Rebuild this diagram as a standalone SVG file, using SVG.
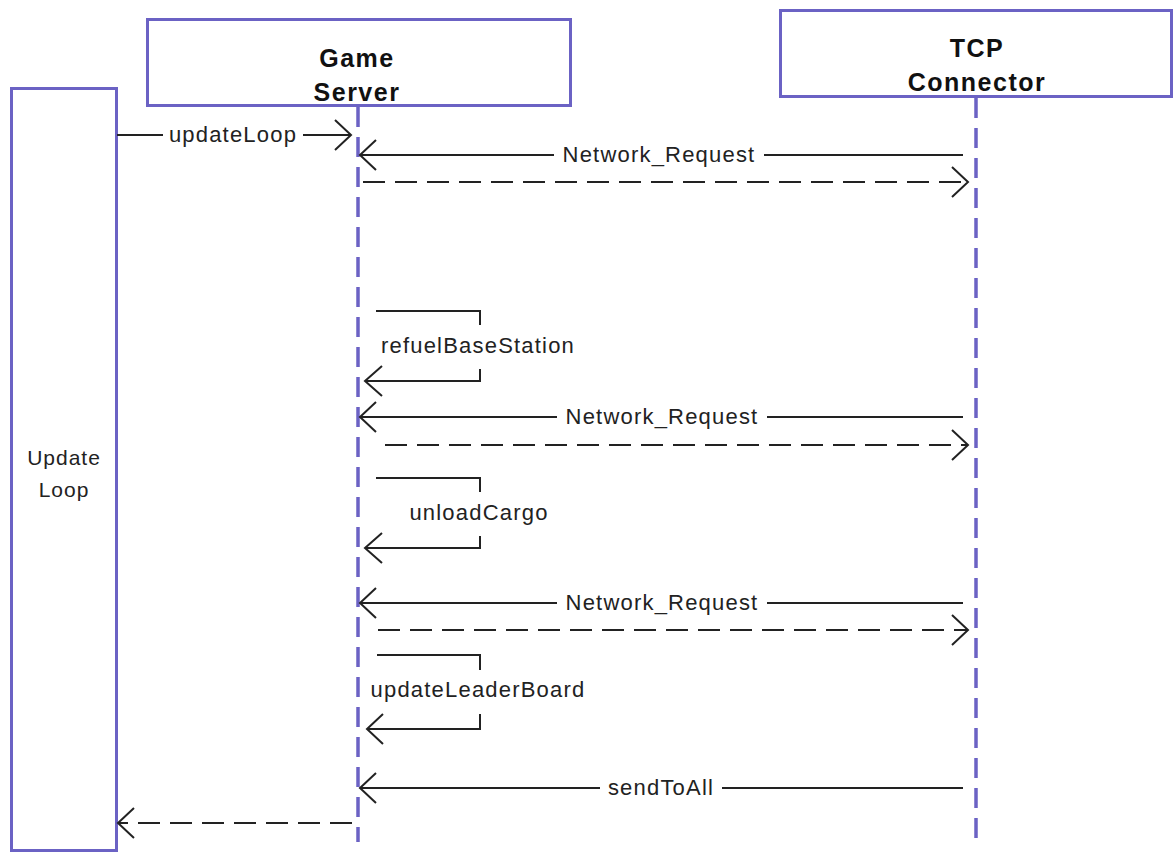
<svg xmlns="http://www.w3.org/2000/svg" width="1173" height="852" viewBox="0 0 1173 852">
  <style>
    .box { fill: #ffffff; stroke: #6b62c4; stroke-width: 3; }
    .life { stroke: #6b62c4; stroke-width: 3.5; stroke-dasharray: 20 10; fill: none; }
    .msg { stroke: #222222; stroke-width: 2; fill: none; }
    .ret { stroke: #222222; stroke-width: 2; fill: none; stroke-dasharray: 22 10; }
    .head { stroke: #222222; stroke-width: 2; fill: none; }
    .title { font-family: "Liberation Sans", Arial, sans-serif; font-size: 25px; font-weight: bold; letter-spacing: 1.5px; fill: #111111; text-anchor: middle; }
    .lbl { font-family: "Liberation Sans", Arial, sans-serif; font-size: 22px; letter-spacing: 1.2px; fill: #222222; text-anchor: middle; }
  </style>

  <!-- participants -->
  <g id="update-loop">
    <rect class="box" x="11.5" y="88.5" width="105" height="762"/>
    <text class="lbl" style="font-size:21px;letter-spacing:1px" x="64" y="465">Update</text>
    <text class="lbl" style="font-size:21px;letter-spacing:1px" x="64" y="497">Loop</text>
  </g>

  <g id="game-server">
    <line class="life" x1="358" y1="107" x2="358" y2="842"/>
    <rect class="box" x="147.5" y="19.5" width="423" height="86"/>
    <text class="title" x="357" y="67">Game</text>
    <text class="title" x="357" y="101">Server</text>
  </g>

  <g id="tcp-connector">
    <line class="life" x1="976" y1="98" x2="976" y2="840"/>
    <rect class="box" x="780.5" y="10.5" width="391" height="86"/>
    <text class="title" x="977" y="57">TCP</text>
    <text class="title" x="977" y="91">Connector</text>
  </g>

  <!-- messages -->
  <g id="connectors">
    <!-- updateLoop -->
    <path class="msg" d="M117 135 H163 M303 135 H351"/>
    <path class="head" d="M335 120 L351 135 L335 150"/>
    <text class="lbl" x="233" y="142">updateLoop</text>

    <!-- Network_Request 1 -->
    <path class="msg" d="M963 155 H764 M554 155 H360"/>
    <path class="head" d="M376 140 L360 155 L376 170"/>
    <text class="lbl" x="659" y="162">Network_Request</text>
    <path class="ret" d="M363 182 H967"/>
    <path class="head" d="M952 167 L968 182 L952 197"/>

    <!-- refuelBaseStation -->
    <path class="msg" d="M376 311 H480 V325 M480 369 V381 H365"/>
    <path class="head" d="M382 366 L365 381 L382 396"/>
    <text class="lbl" x="478" y="353">refuelBaseStation</text>

    <!-- Network_Request 2 -->
    <path class="msg" d="M963 417 H767 M557 417 H360"/>
    <path class="head" d="M376 402 L360 417 L376 432"/>
    <text class="lbl" x="662" y="424">Network_Request</text>
    <path class="ret" d="M385 445 H967"/>
    <path class="head" d="M952 430 L968 445 L952 460"/>

    <!-- unloadCargo -->
    <path class="msg" d="M376 478 H480 V492 M480 536 V548 H365"/>
    <path class="head" d="M382 533 L365 548 L382 563"/>
    <text class="lbl" x="479" y="520">unloadCargo</text>

    <!-- Network_Request 3 -->
    <path class="msg" d="M963 603 H767 M557 603 H360"/>
    <path class="head" d="M376 588 L360 603 L376 618"/>
    <text class="lbl" x="662" y="610">Network_Request</text>
    <path class="ret" d="M378 630 H967"/>
    <path class="head" d="M952 615 L968 630 L952 645"/>

    <!-- updateLeaderBoard -->
    <path class="msg" d="M377 655 H480 V670 M480 714 V729 H367"/>
    <path class="head" d="M383 714 L367 729 L383 744"/>
    <text class="lbl" x="478" y="697">updateLeaderBoard</text>

    <!-- sendToAll -->
    <path class="msg" d="M963 788 H722 M600 788 H360"/>
    <path class="head" d="M376 773 L360 788 L376 803"/>
    <text class="lbl" x="661" y="795">sendToAll</text>

    <!-- return to Update Loop -->
    <path class="ret" d="M352 823 H119"/>
    <path class="head" d="M134 808 L118 823 L134 838"/>
  </g>
</svg>
